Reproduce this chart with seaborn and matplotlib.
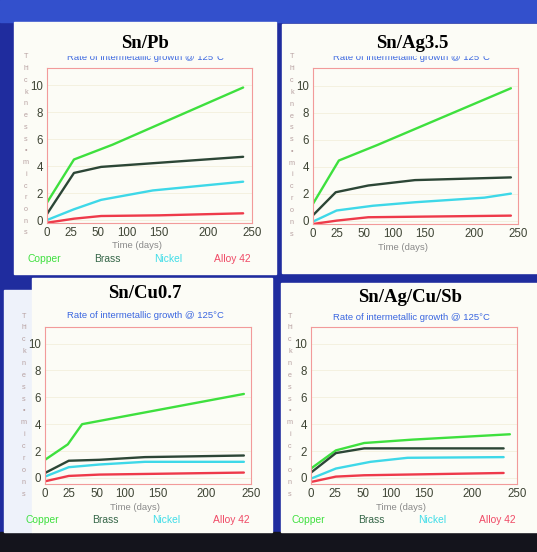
import matplotlib
matplotlib.use("Agg")
import matplotlib.pyplot as plt
from matplotlib.patches import Rectangle
import numpy as np
import pandas as pd
import seaborn as sns

# ---- data ----
METALS = ["Copper", "Brass", "Nickel", "Alloy 42"]
LINE_COLORS = ["#3ee03e", "#2c4636", "#3ed8e8", "#ee3a4a"]
LEGEND_COLORS = ["#40e040", "#356648", "#40dde8", "#f04a66"]

TIME_TICKS = [0, 25, 50, 100, 150, 200, 250]
# the original axis is not linear: where each tick sits along the axis
TICK_POS = [0, 24, 52, 81, 114, 163, 208]
THICK_TICKS = [0, 2, 4, 6, 8, 10]

SN_PB = {
    "Copper": ([0, 28, 75, 240], [1.3, 4.5, 5.6, 9.85]),
    "Brass": ([0, 28, 55, 240], [0.45, 3.5, 3.95, 4.7]),
    "Nickel": ([0, 28, 55, 140, 240], [0.0, 0.8, 1.5, 2.2, 2.85]),
    "Alloy 42": ([0, 28, 55, 150, 240], [-0.2, 0.1, 0.3, 0.35, 0.5]),
}
SN_AG35 = {
    "Copper": ([0, 27, 73, 242], [1.25, 4.45, 5.6, 9.8]),
    "Brass": ([0, 24, 57, 134, 242], [0.4, 2.1, 2.6, 3.0, 3.2]),
    "Nickel": ([0, 25, 65, 134, 212, 242], [-0.07, 0.75, 1.1, 1.36, 1.7, 2.0]),
    "Alloy 42": ([0, 25, 57, 242], [-0.25, 0.0, 0.25, 0.37]),
}
SN_CU07 = {
    "Copper": ([0, 24, 37, 242], [1.35, 2.5, 4.0, 6.25]),
    "Brass": ([0, 25, 55, 130, 242], [0.37, 1.28, 1.35, 1.55, 1.67]),
    "Nickel": ([0, 25, 55, 130, 242], [0.1, 0.8, 1.0, 1.2, 1.2]),
    "Alloy 42": ([0, 25, 55, 242], [-0.25, 0.15, 0.25, 0.4]),
}
SN_AG_CU_SB = {
    "Copper": ([0, 26, 53, 132, 242], [0.7, 2.05, 2.6, 2.85, 3.25]),
    "Brass": ([0, 26, 53, 235], [0.4, 1.85, 2.2, 2.2]),
    "Nickel": ([0, 26, 64, 125, 235], [-0.05, 0.7, 1.2, 1.5, 1.55]),
    "Alloy 42": ([0, 26, 53, 235], [-0.3, 0.1, 0.2, 0.37]),
}

TITLES = ["Sn/Pb", "Sn/Ag3.5", "Sn/Cu0.7", "Sn/Ag/Cu/Sb"]
SUBTITLE = "Rate of intermetallic growth @ 125\u00b0C"
YLABEL_ROWS = ["T", "hi", "c", "k", "n", "e", "s", "s", "\u2022",
               "m", "i", "c", "r", "o", "n", "s"]

# ---- layout (pixels, top-left origin) ----
W, H = 537, 552
PANEL_BG = "#fcfcf6"
PANELS = [(14, 22, 276, 274), (282, 24, 537, 273),
          (32, 278, 272, 532), (281, 283, 537, 532)]
FRAMES = [(47, 68, 252, 223), (313, 68, 518, 224),
          (45, 327, 251, 484), (311, 327, 517, 484)]
YLIMS = [(-0.22, 11.3), (-0.25, 11.3), (-0.45, 11.23), (-0.45, 11.23)]
TITLE_XY = [(145, 43), (412, 43), (145, 293), (410, 297)]
SUB_XY = [(145, 57.5), (411, 57.5), (145, 315), (411, 317)]
# the pasted-on title label hides the upper half of the subtitle in the top row
COVER_BOTTOM = [55.2, 55.2, None, None]
HAS_LEGEND = [True, False, True, True]


def fx(x):
    return x / W


def fy(y):
    return 1 - y / H


def fwd(d):
    return np.interp(d, TIME_TICKS, TICK_POS)


def inv(p):
    return np.interp(p, TICK_POS, TIME_TICKS)


def to_frame(series):
    rows = []
    for metal in METALS:
        days, vals = series[metal]
        for d, v in zip(days, vals):
            rows.append({"days": d, "thickness": v, "metal": metal})
    return pd.DataFrame(rows)


sns.set_style("white")
plt.rcParams["font.family"] = ["Liberation Sans", "DejaVu Sans"]

fig = plt.figure(figsize=(W / 100, H / 100), dpi=100, facecolor="#1f2c9e")

# backdrop pieces
fig.add_artist(Rectangle((0, fy(22)), 1, 22 / H, transform=fig.transFigure,
                         color="#3350cc", zorder=0))
fig.add_artist(Rectangle((0, 0), 1, fy(532), transform=fig.transFigure,
                         color="#14141c", zorder=0))
fig.add_artist(Rectangle((fx(4), fy(532)), 28 / W, (532 - 290) / H,
                         transform=fig.transFigure, color="#eef2fa", zorder=0))

datasets = [SN_PB, SN_AG35, SN_CU07, SN_AG_CU_SB]
palette = dict(zip(METALS, LINE_COLORS))

for i, data in enumerate(datasets):
    x0, y0, x1, y1 = PANELS[i]
    fig.add_artist(Rectangle((fx(x0), fy(y1)), (x1 - x0) / W, (y1 - y0) / H,
                             transform=fig.transFigure, color=PANEL_BG, zorder=0))

    l, t, r, b = FRAMES[i]
    ax = fig.add_axes([fx(l), fy(b), (r - l) / W, (b - t) / H])
    ax.set_facecolor(PANEL_BG)
    ax.set_xscale("function", functions=(fwd, inv))

    df = to_frame(data)
    sns.lineplot(data=df, x="days", y="thickness", hue="metal", palette=palette,
                 linewidth=1.7, legend=False, ax=ax, estimator=None, sort=False)

    ax.set_xlim(0, 250)
    ax.set_ylim(*YLIMS[i])
    ax.set_xticks(TIME_TICKS)
    ax.set_xticklabels([str(v) for v in TIME_TICKS])
    ax.set_yticks(THICK_TICKS)
    ax.set_yticklabels([str(v) for v in THICK_TICKS])
    ax.tick_params(length=0, labelsize=8.3, colors="#3e4434", pad=3)
    ax.grid(axis="y", color="#f3f0dc", linewidth=0.6)
    ax.set_xlabel("")
    ax.set_ylabel("")
    for s in ax.spines.values():
        s.set_color("#f29a9a")
        s.set_linewidth(0.8)

    # subtitle, then title
    fig.text(fx(SUB_XY[i][0]), fy(SUB_XY[i][1]), SUBTITLE, ha="center",
             va="center", fontsize=6.8, color="#3a66e0", zorder=4)
    if COVER_BOTTOM[i] is not None:
        cb = COVER_BOTTOM[i]
        fig.add_artist(Rectangle((fx(x0 + 40), fy(cb)), (x1 - x0 - 80) / W,
                                 (cb - y0 - 4) / H, transform=fig.transFigure,
                                 color=PANEL_BG, zorder=4.5))
    fig.text(fx(TITLE_XY[i][0]), fy(TITLE_XY[i][1]), TITLES[i], ha="center",
             va="center", fontsize=13.5, fontweight="bold",
             family="Liberation Serif", color="black", zorder=5)

    # stacked vertical axis label
    ytop, ybot = t - 11, b + 10
    step = (ybot - ytop) / (len(YLABEL_ROWS) - 1)
    for k, ch in enumerate(YLABEL_ROWS):
        fig.text(fx(l - 21), fy(ytop + k * step), ch, ha="center", va="center",
                 fontsize=5.2, color="#b8a2a2")

    # x label
    fig.text(fx(l + 90), fy(b + 23), "Time (days)", ha="center", va="center",
             fontsize=6.8, color="#8a8a8a")

    # legend written as coloured words
    if HAS_LEGEND[i]:
        for frac, name, col in zip([-0.015, 0.295, 0.59, 0.905], METALS, LEGEND_COLORS):
            fig.text(fx(l + frac * (r - l)), fy(b + 36), name, ha="center",
                     va="center", fontsize=7.4, color=col)

fig.savefig("out.png", dpi=100, facecolor=fig.get_facecolor())
